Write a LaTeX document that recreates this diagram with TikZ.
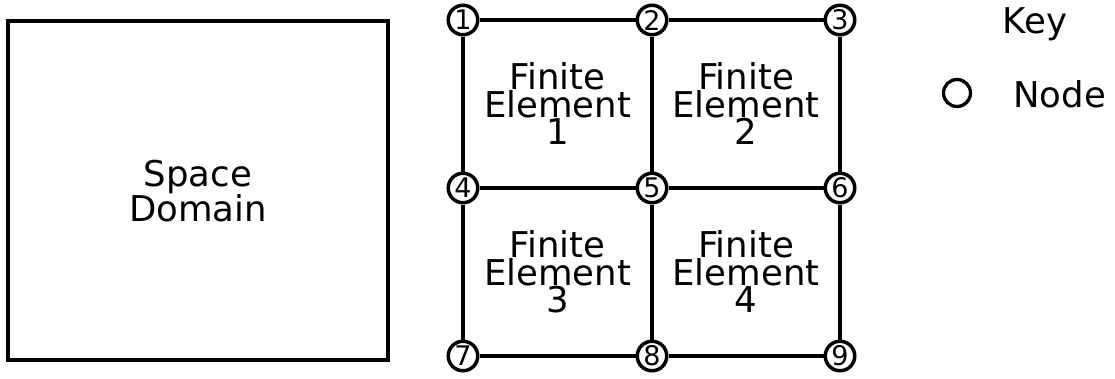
\documentclass[tikz,border=0pt]{standalone}
\usepackage{fontspec}
\setmainfont{DejaVu Sans}
\begin{document}
\begin{tikzpicture}[x=1pt,y=-1pt,
  fenode/.style={circle,draw,line width=3.5pt,minimum size=29.5pt,inner sep=0pt,fill=white,font=\fontsize{27}{27}\selectfont},
  bigtext/.style={align=center,inner sep=0pt,font=\fontsize{35.5}{27.5}\selectfont},
  edge/.style={line width=3.3pt}]
\useasboundingbox (0,0) rectangle (1115,378);
\node[draw,line width=3.3pt,minimum width=380pt,minimum height=339pt,inner sep=0pt] (dom) at (198,190.5) {};
\node[bigtext,font=\fontsize{35.5}{30}\selectfont] (domt) at (198,191) {Space\\Domain};
% grid nodes
\node[fenode] (n1) at (463,20) {1};
\node[fenode] (n2) at (652,20) {2};
\node[fenode] (n3) at (840,20) {3};
\node[fenode] (n4) at (463,188) {4};
\node[fenode] (n5) at (652,188) {5};
\node[fenode] (n6) at (840,188) {6};
\node[fenode] (n7) at (463,356) {7};
\node[fenode] (n8) at (652,356) {8};
\node[fenode] (n9) at (840,356) {9};
\draw[edge] (n1) -- (n2); \draw[edge] (n2) -- (n3);
\draw[edge] (n4) -- (n5); \draw[edge] (n5) -- (n6);
\draw[edge] (n7) -- (n8); \draw[edge] (n8) -- (n9);
\draw[edge] (n1) -- (n4); \draw[edge] (n4) -- (n7);
\draw[edge] (n2) -- (n5); \draw[edge] (n5) -- (n8);
\draw[edge] (n3) -- (n6); \draw[edge] (n6) -- (n9);
\node[bigtext] (e1) at (557.5,104) {Finite\\Element\\1};
\node[bigtext] (e2) at (746,104) {Finite\\Element\\2};
\node[bigtext] (e3) at (557.5,272) {Finite\\Element\\3};
\node[bigtext] (e4) at (746,272) {Finite\\Element\\4};
% key
\node[bigtext,anchor=base] (key) at (1035,33) {Key};
\node[circle,draw,line width=3.3pt,minimum size=27pt,inner sep=0pt] (kc) at (957,93) {};
\node[bigtext,anchor=base west] (kn) at (1013,107) {Node};
\end{tikzpicture}
\end{document}
